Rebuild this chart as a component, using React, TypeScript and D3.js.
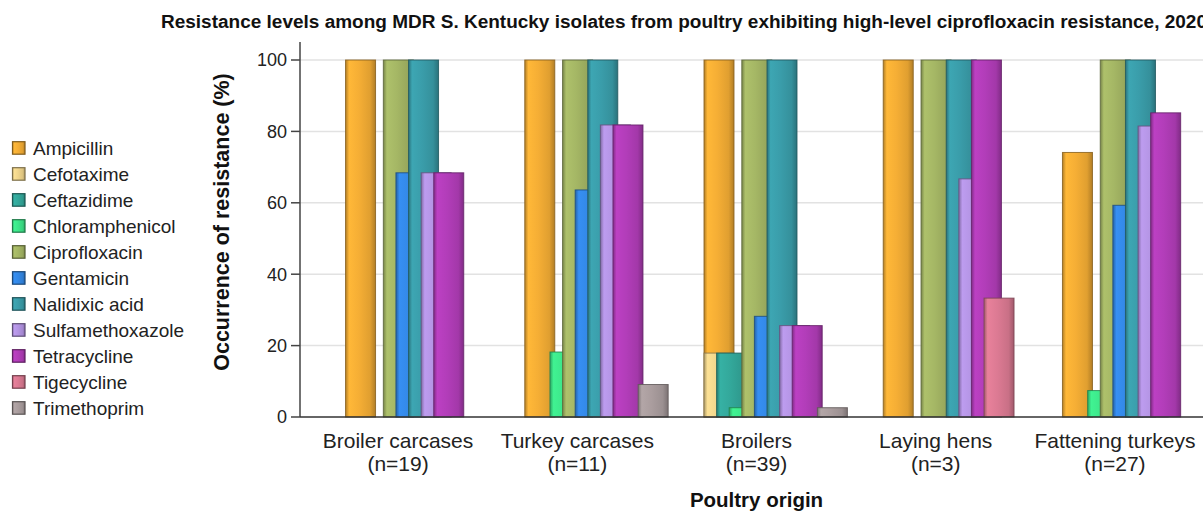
import React from "react";
import * as d3 from "d3";

const categories = [
  "Broiler carcases",
  "Turkey carcases",
  "Broilers",
  "Laying hens",
  "Fattening turkeys",
];
const sampleSizes = ["(n=19)", "(n=11)", "(n=39)", "(n=3)", "(n=27)"];

const antimicrobials = [
  "Ampicillin",
  "Cefotaxime",
  "Ceftazidime",
  "Chloramphenicol",
  "Ciprofloxacin",
  "Gentamicin",
  "Nalidixic acid",
  "Sulfamethoxazole",
  "Tetracycline",
  "Tigecycline",
  "Trimethoprim",
];

const colors = [
  "#F5AE35",
  "#F0D58C",
  "#33A89B",
  "#3DE68A",
  "#A5B765",
  "#3388E6",
  "#3A9DAA",
  "#B394E3",
  "#B23DB9",
  "#DC7A93",
  "#AA9D9E",
];

// values per antimicrobial, in order of categories (% resistant)
const ampicillin = [100, 100, 100, 100, 74.1];
const cefotaxime = [0, 0, 17.9, 0, 0];
const ceftazidime = [0, 0, 17.9, 0, 0];
const chloramphenicol = [0, 18.2, 2.6, 0, 7.4];
const ciprofloxacin = [100, 100, 100, 100, 100];
const gentamicin = [68.4, 63.6, 28.2, 0, 59.3];
const nalidixicAcid = [100, 100, 100, 100, 100];
const sulfamethoxazole = [68.4, 81.8, 25.6, 66.7, 81.5];
const tetracycline = [68.4, 81.8, 25.6, 100, 85.2];
const tigecycline = [0, 0, 0, 33.3, 0];
const trimethoprim = [0, 9.1, 2.6, 0, 0];

const seriesValues = [
  ampicillin,
  cefotaxime,
  ceftazidime,
  chloramphenicol,
  ciprofloxacin,
  gentamicin,
  nalidixicAcid,
  sulfamethoxazole,
  tetracycline,
  tigecycline,
  trimethoprim,
];

const yTicks = [0, 20, 40, 60, 80, 100];

const W = 1203;
const H = 511;
const FONT = "'Liberation Sans', Arial, Helvetica, sans-serif";

export default function App() {
  const plotLeft = 300;
  const plotRight = 1213;
  const yScale = d3.scaleLinear().domain([0, 100]).range([417, 60]);
  const x0 = d3
    .scaleBand<string>()
    .domain(categories)
    .range([plotLeft, plotRight])
    .paddingInner(0)
    .paddingOuter(0.047);
  // slot offset inside a group (bars overlap)
  const slot = d3.scaleLinear().domain([0, 10]).range([-65.1, 60.9]);
  const barW = 30;

  const bars: React.ReactNode[] = [];
  categories.forEach((cat, ci) => {
    const center = (x0(cat) as number) + x0.bandwidth() / 2;
    antimicrobials.forEach((ab, si) => {
      const v = seriesValues[si][ci];
      if (!v) return;
      const s = Math.max(si, 1); // first series shares the second slot in the original
      const x = center + slot(s);
      const y = yScale(v);
      bars.push(
        <rect
          key={cat + ab}
          x={x}
          y={y}
          width={barW}
          height={yScale(0) - y}
          fill={`url(#grad${si})`}
          stroke={d3.color(colors[si])!.darker(1.6).formatHex()}
          strokeOpacity={0.85}
          strokeWidth={1}
        />
      );
    });
  });

  return (
    <div style={{ position: "absolute", left: 0, top: 0 }}>
      <svg width={W} height={H} style={{ display: "block", background: "#fff" }}>
        <defs>
          {colors.map((c, i) => {
            const base = d3.color(c)!;
            return (
              <linearGradient key={i} id={`grad${i}`} x1="0" x2="1" y1="0" y2="0">
                <stop offset="0" stopColor={base.darker(0.9).formatHex()} />
                <stop offset="0.12" stopColor={base.brighter(0.15).formatHex()} />
                <stop offset="0.45" stopColor={base.formatHex()} />
                <stop offset="0.82" stopColor={base.darker(0.25).formatHex()} />
                <stop offset="1" stopColor={base.darker(0.9).formatHex()} />
              </linearGradient>
            );
          })}
        </defs>

        {/* title */}
        <text
          x={161}
          y={28}
          fontFamily={FONT}
          fontWeight="bold"
          fontSize={17.5}
          textLength={1046}
          lengthAdjust="spacingAndGlyphs"
          fill="#111"
        >
          Resistance levels among MDR S. Kentucky isolates from poultry exhibiting high-level ciprofloxacin resistance, 2020
        </text>

        {/* gridlines */}
        {yTicks
          .filter((t) => t > 0)
          .map((t) => (
            <line
              key={"g" + t}
              x1={plotLeft}
              x2={W}
              y1={yScale(t)}
              y2={yScale(t)}
              stroke="#e2e2e2"
              strokeWidth={1.5}
            />
          ))}

        {bars}

        {/* axes */}
        <line x1={plotLeft} x2={plotLeft} y1={42} y2={yScale(0)} stroke="#444" strokeWidth={1.5} />
        <line x1={plotLeft} x2={W} y1={yScale(0)} y2={yScale(0)} stroke="#333" strokeWidth={1.5} />
        {yTicks.map((t) => (
          <g key={"t" + t}>
            <line x1={291} x2={plotLeft} y1={yScale(t)} y2={yScale(t)} stroke="#444" strokeWidth={1.5} />
            <text
              x={287}
              y={yScale(t)}
              dy="0.35em"
              textAnchor="end"
              fontFamily={FONT}
              fontSize={18}
              fill="#222"
            >
              {t}
            </text>
          </g>
        ))}

        {/* category labels */}
        {categories.map((c, i) => {
          const cx = (x0(c) as number) + x0.bandwidth() / 2;
          return (
            <g key={"c" + c}>
              <text x={cx} y={448} textAnchor="middle" fontFamily={FONT} fontSize={21} fill="#222">
                {c}
              </text>
              <text x={cx} y={471} textAnchor="middle" fontFamily={FONT} fontSize={21} fill="#222">
                {sampleSizes[i]}
              </text>
            </g>
          );
        })}

        {/* axis titles */}
        <text
          x={(plotLeft + plotRight) / 2}
          y={507}
          textAnchor="middle"
          fontFamily={FONT}
          fontWeight="bold"
          fontSize={20.5}
          fill="#111"
        >
          Poultry origin
        </text>
        <text
          transform={`translate(221, 222) rotate(-90)`}
          textAnchor="middle"
          dy="0.35em"
          fontFamily={FONT}
          fontWeight="bold"
          fontSize={21.5}
          fill="#111"
        >
          Occurrence of resistance (%)
        </text>

        {/* legend */}
        {antimicrobials.map((a, i) => {
          const base = 154.7 + i * 26;
          return (
            <g key={"l" + a}>
              <rect
                x={12.5}
                y={base - 13}
                width={12.5}
                height={12.5}
                fill={`url(#grad${i})`}
                stroke={d3.color(colors[i])!.darker(1.8).formatHex()}
                strokeWidth={1.2}
              />
              <text x={33} y={base} fontFamily={FONT} fontSize={19} fill="#222">
                {a}
              </text>
            </g>
          );
        })}
      </svg>
    </div>
  );
}
